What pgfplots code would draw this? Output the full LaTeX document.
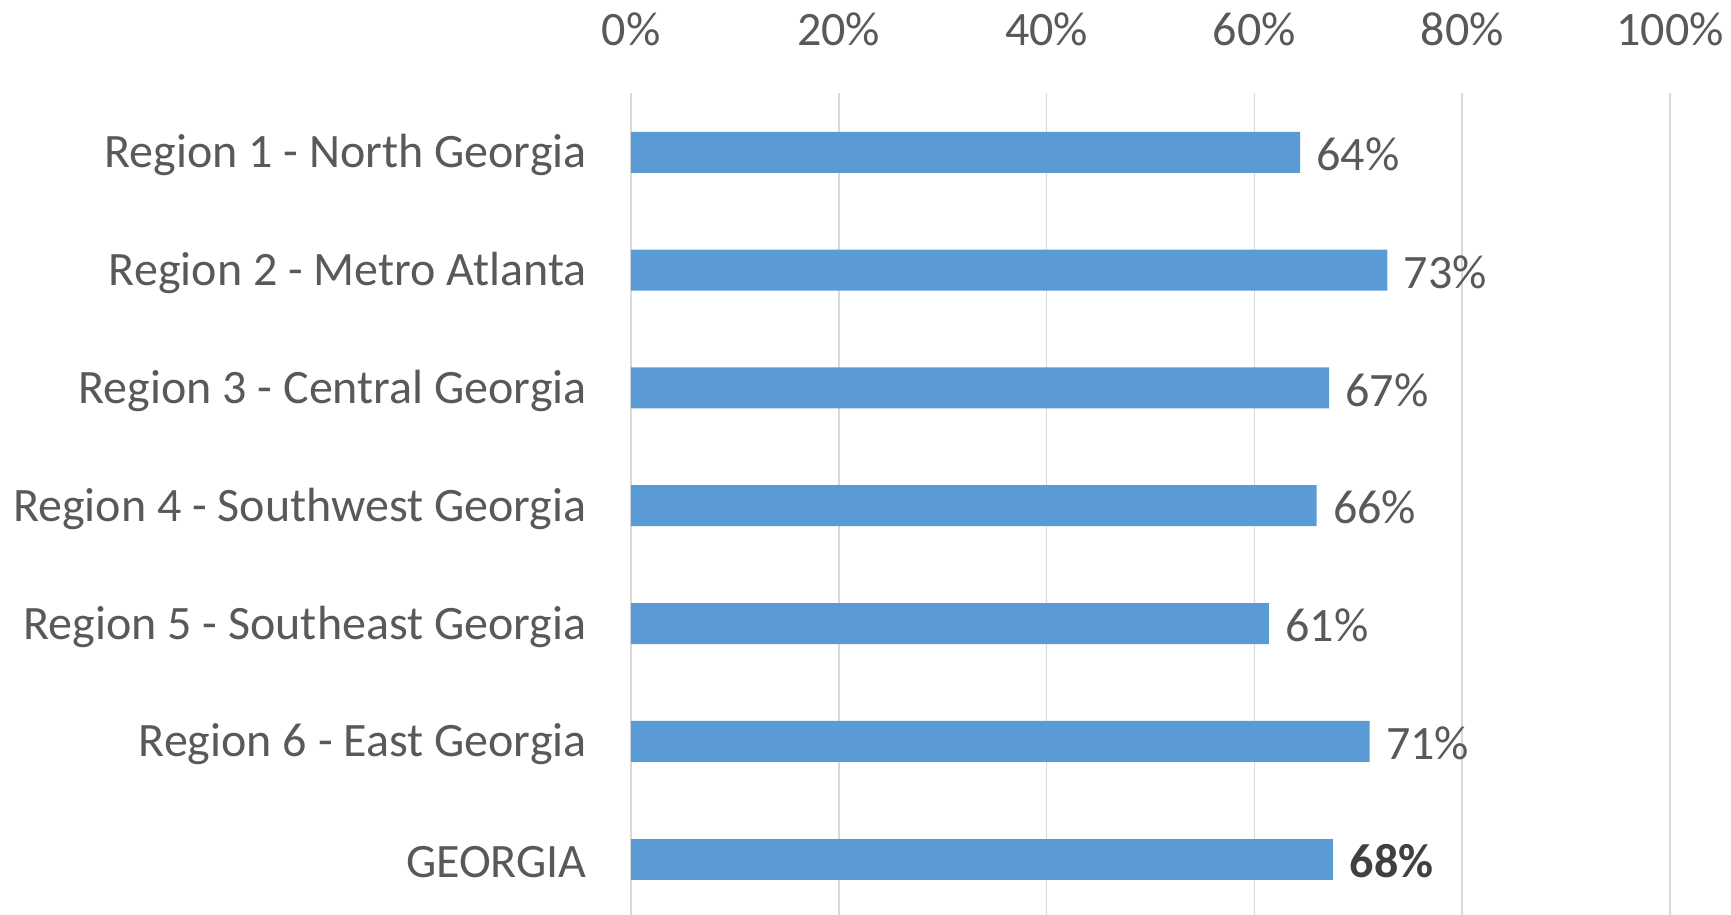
\documentclass[border=0pt]{standalone}
\usepackage{pgfplots}
\pgfplotsset{compat=1.18}
\usepackage{fontspec}
\setmainfont{Carlito}
\definecolor{barblue}{HTML}{5B9BD5}
\definecolor{txt}{HTML}{595959}
\definecolor{txtdark}{HTML}{404040}
\definecolor{gridc}{HTML}{D9D9D9}
\begin{document}
\begin{tikzpicture}
\useasboundingbox (-315.5pt,1.95pt) rectangle (550pt,459pt);
\begin{axis}[
  at={(0,0)}, anchor=south west,
  scale only axis, width=519.5pt, height=412.3pt,
  xmin=0, xmax=100, ymin=-0.5, ymax=6.5, y dir=reverse,
  axis line style={draw=none},
  /pgf/number format/assume math mode=true,
  xtick={0,20,40,60,80,100},
  xticklabels={0\%,20\%,40\%,60\%,80\%,100\%},
  xticklabel pos=upper,
  xmajorgrids, major grid style={gridc, line width=0.75pt},
  ytick={0,1,2,3,4,5,6},
  yticklabels={Region 1 - North Georgia, Region 2 - Metro Atlanta, Region 3 - Central Georgia, Region 4 - Southwest Georgia, Region 5 - Southeast Georgia, Region 6 - East Georgia, GEORGIA},
  major tick length=0pt,
  tick style={draw=none},
  xticklabel style={anchor=base, inner sep=0pt, yshift=23.75pt, font=\fontsize{24}{28}\selectfont, text=txt},
  yticklabel style={anchor=east, inner sep=0pt, xshift=-22pt, yshift=-1.5pt, font=\fontsize{24}{28}\selectfont, text=txt},
  xbar, bar width=20.5pt,
  clip=false,
]
\addplot[fill=barblue, draw=none, bar shift=0pt,
  nodes near coords={\pgfmathprintnumber[fixed,precision=0,assume math mode=true]{\pgfplotspointmeta}\%},
  point meta=x,
  nodes near coords style={anchor=west, inner sep=0pt, xshift=8pt, yshift=-1pt, font=\fontsize{24}{28}\selectfont, text=txt}]
  coordinates {(64.4,0) (72.8,1) (67.2,2) (66.0,3) (61.4,4) (71.1,5)};
\addplot[fill=barblue, draw=none, bar shift=0pt,
  nodes near coords={\pgfmathprintnumber[fixed,precision=0,assume math mode=true]{\pgfplotspointmeta}\%},
  point meta=x,
  nodes near coords style={anchor=west, inner sep=0pt, xshift=8pt, yshift=-1pt, font=\fontsize{24}{28}\selectfont\bfseries, text=txtdark}]
  coordinates {(67.6,6)};
\end{axis}
\end{tikzpicture}
\end{document}
